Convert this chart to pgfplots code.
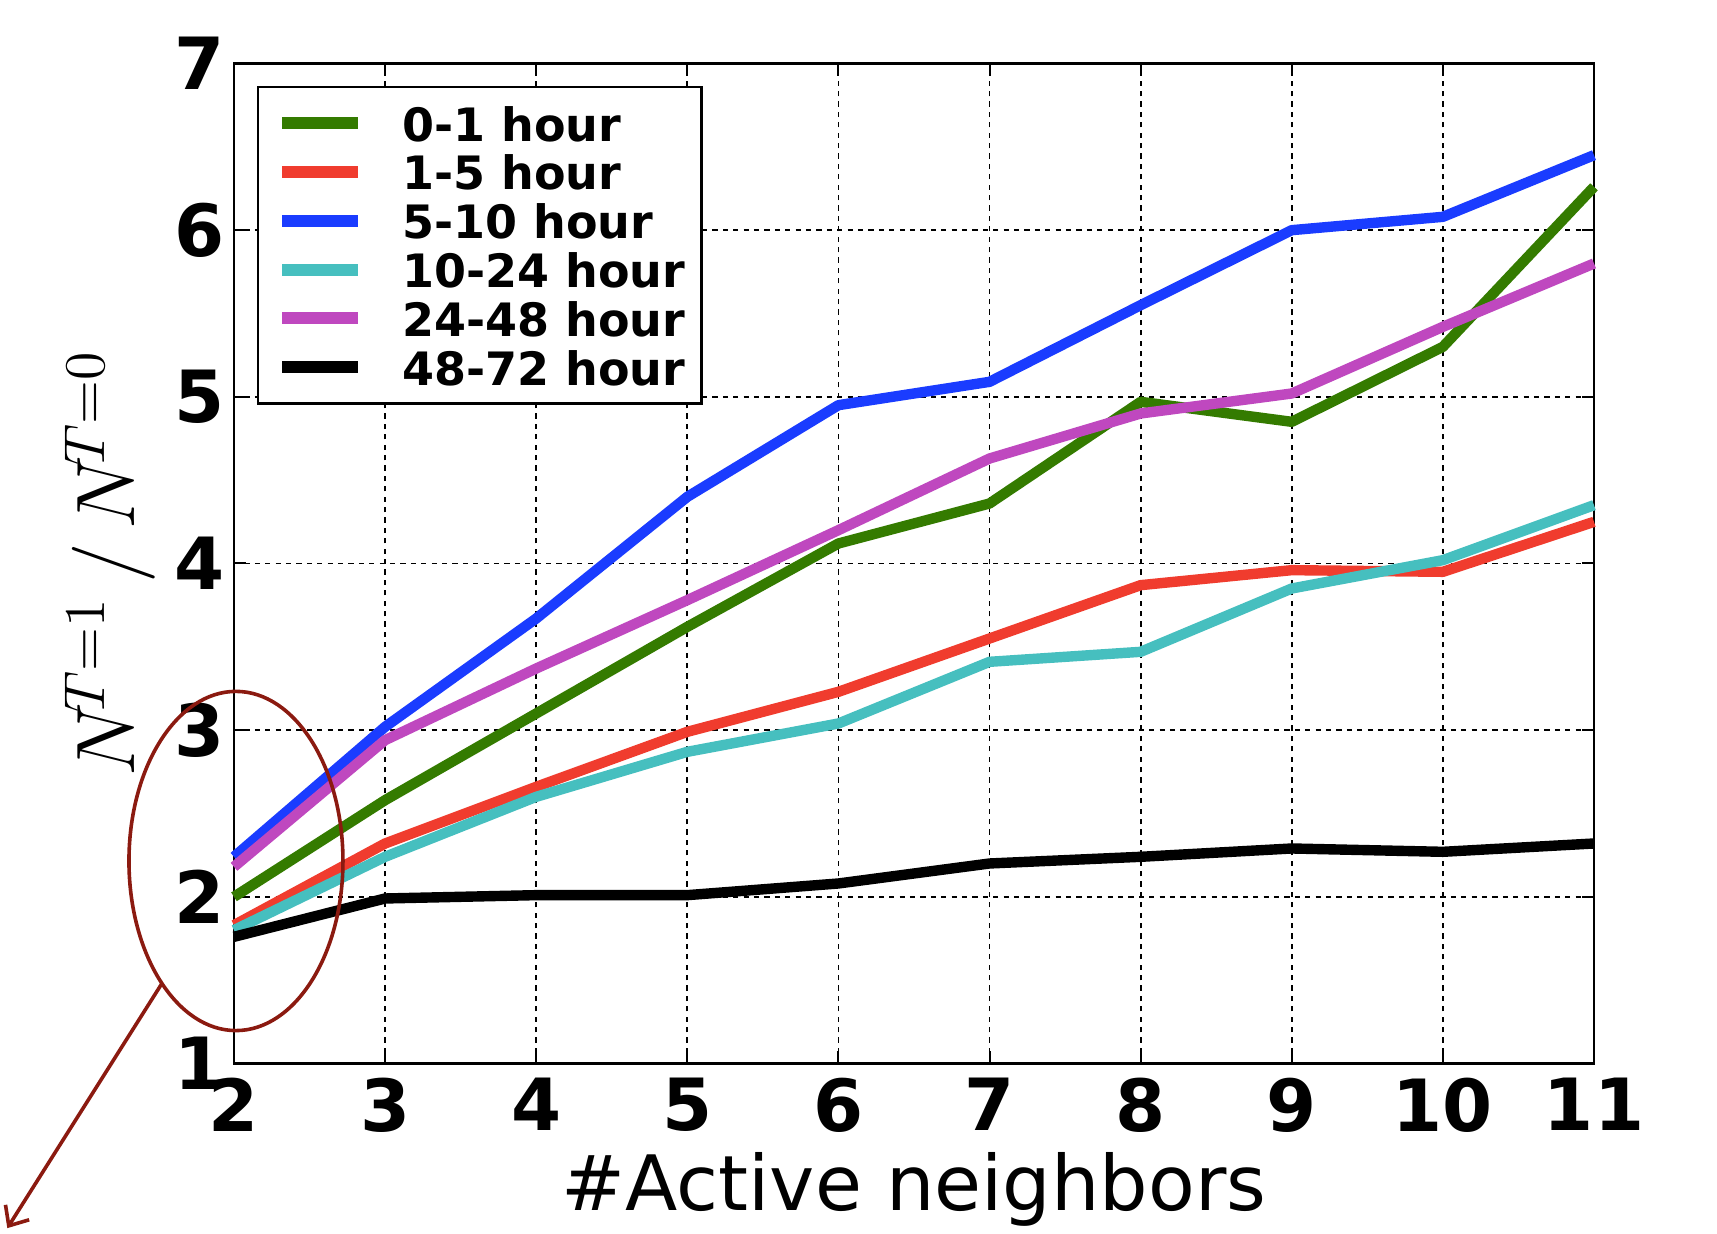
\documentclass[border=0pt]{standalone}
\usepackage[no-math]{fontspec}
\setmainfont{DejaVu Sans}
\usepackage{pgfplots}
\pgfplotsset{compat=1.18}
\usetikzlibrary{arrows.meta}
\definecolor{cgreen}{HTML}{347B00}
\definecolor{cred}{HTML}{F03C2E}
\definecolor{cblue}{HTML}{1A3CFF}
\definecolor{ccyan}{HTML}{46BFBF}
\definecolor{cmag}{HTML}{BF48BF}
\definecolor{cann}{HTML}{8B1A10}
\begin{document}
\begin{tikzpicture}
\begin{axis}[
  name=ax,
  scale only axis,
  width=340pt, height=250pt,
  xmin=2, xmax=11, ymin=1, ymax=7,
  xtick={2,3,4,5,6,7,8,9,10,11},
  ytick={1,2,3,4,5,6,7},
  clip=false,
  /pgf/number format/assume math mode=true,
  ticklabel style={font=\fontsize{18}{18}\selectfont\bfseries},
  yticklabel style={inner sep=0pt, anchor=east, xshift=-2.25pt},
  xticklabel style={inner sep=0pt, anchor=north, yshift=-3.5pt},
  tick align=inside,
  major tick length=3pt,
  tick style={black, line width=0.5pt},
  axis line style={line width=0.6pt},
  grid=major,
  major grid style={black, line width=0.45pt, dash pattern=on 1.3pt off 1.3pt},
  every axis x label/.style={at={(axis description cs:0.5,0)}, anchor=base, yshift=-36.75pt, inner sep=0pt},
  every axis y label/.style={at={(axis description cs:0,0.5)}, rotate=90, anchor=center, yshift=31pt, inner sep=0pt},
  xlabel={\fontsize{19.1}{19.1}\selectfont \#Active neighbors},
  ylabel={\fontsize{20}{20}\selectfont $N^{\!T=1}\,/\,N^{\!T=0}$},
  legend cell align=left,
  legend style={at={(axis cs:2,7)}, anchor=north west, xshift=5.75pt, yshift=-5.5pt,
    draw=black, line width=0.6pt, inner xsep=2.5pt, inner ysep=3pt,
    font=\fontsize{11.5}{11.5}\selectfont\bfseries,
    nodes={inner sep=1.6pt, text height=9.0pt, text depth=0pt},
    column sep=8pt, row sep=0pt},
  legend image code/.code={\path (0pt,0pt); \draw[#1, line width=3pt] (2.2pt,0pt) -- (21.1pt,0pt);},
  every axis plot/.append style={line width=2.6pt, line join=round},
]
\addplot[cgreen] coordinates {(2,2.00) (3,2.58) (4,3.10) (5,3.62) (6,4.12) (7,4.36) (8,4.97) (9,4.85) (10,5.30) (11,6.26)};
\addlegendentry{0-1 hour}
\addplot[cred] coordinates {(2,1.83) (3,2.32) (4,2.66) (5,2.99) (6,3.23) (7,3.55) (8,3.87) (9,3.96) (10,3.95) (11,4.25)};
\addlegendentry{1-5 hour}
\addplot[cblue] coordinates {(2,2.24) (3,3.02) (4,3.67) (5,4.40) (6,4.95) (7,5.09) (8,5.55) (9,6.00) (10,6.08) (11,6.45)};
\addlegendentry{5-10 hour}
\addplot[ccyan] coordinates {(2,1.80) (3,2.24) (4,2.60) (5,2.87) (6,3.04) (7,3.41) (8,3.47) (9,3.85) (10,4.02) (11,4.35)};
\addlegendentry{10-24 hour}
\addplot[cmag] coordinates {(2,2.18) (3,2.94) (4,3.37) (5,3.78) (6,4.20) (7,4.63) (8,4.90) (9,5.02) (10,5.42) (11,5.80)};
\addlegendentry{24-48 hour}
\addplot[black] coordinates {(2,1.76) (3,1.99) (4,2.01) (5,2.01) (6,2.08) (7,2.20) (8,2.24) (9,2.29) (10,2.27) (11,2.32)};
\addlegendentry{48-72 hour}
\draw[cann, line width=0.9pt] (axis cs:2.013,2.215) ellipse [x radius=26.75pt, y radius=42.4pt];
\draw[cann, line width=0.9pt, -{Straight Barb[length=4pt,width=7pt]}] (axis cs:1.5215,1.478) -- (axis cs:0.50,0.012);
\end{axis}
\pgfresetboundingbox
\path ([xshift=-58.5pt,yshift=-42.5pt]ax.south west) rectangle ([xshift=30.75pt,yshift=15.875pt]ax.north east);
\end{tikzpicture}
\end{document}
